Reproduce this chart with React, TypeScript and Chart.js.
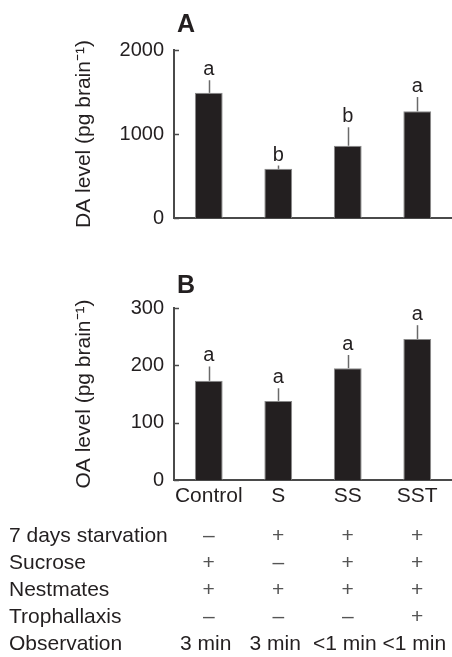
import React, { useEffect, useRef } from "react";
import { Chart, registerables } from "chart.js";

Chart.register(...registerables);

// ---------- data ----------
const groups = ["Control", "S", "SS", "SST"];

const daMean = [1490, 585, 860, 1270];
const daErr = [150, 40, 220, 170];
const daLetters = ["a", "b", "b", "a"];
const daTicks = [0, 1000, 2000];

const oaMean = [173, 138, 195, 246];
const oaErr = [25, 22, 23, 24];
const oaLetters = ["a", "a", "a", "a"];
const oaTicks = [0, 100, 200, 300];

const conditionNames = ["7 days starvation", "Sucrose", "Nestmates", "Trophallaxis", "Observation"];
const starvationRow = ["–", "+", "+", "+"];
const sucroseRow = ["+", "–", "+", "+"];
const nestmatesRow = ["+", "+", "+", "+"];
const trophallaxisRow = ["–", "–", "–", "+"];
const observationRow = ["3 min", "3 min", "<1 min", "<1 min"];

// ---------- style ----------
const FAMILY = '"Liberation Sans", Arial, Helvetica, sans-serif';
const TEXT = "#231f20";
const BAR = "#231f20";
const BAR_EDGE = "#8a8a8a";
const AXIS = "#4a4a4a";
const ERR = "#6a6a6a";

type Panel = {
  letter: string;
  means: number[];
  errs: number[];
  letters: string[];
  ticks: number[];
  max: number;
  yTitle: string;
  padTop: number;
  padBottom: number;
  xHeight: number;
  showX: boolean;
  letterLift: number;
  table: boolean;
};

function makeExtras(p: Panel) {
  return {
    id: "panelExtras" + p.letter,
    afterDatasetsDraw(chart: any) {
      const { ctx, chartArea } = chart;
      const xs = chart.scales.x;
      const ys = chart.scales.y;
      const meta = chart.getDatasetMeta(0);
      ctx.save();

      // inward tick marks
      ctx.strokeStyle = AXIS;
      ctx.lineWidth = 1.5;
      p.ticks.forEach((v) => {
        const py = Math.round(ys.getPixelForValue(v)) + 0.5;
        ctx.beginPath();
        ctx.moveTo(chartArea.left, py);
        ctx.lineTo(chartArea.left + 5, py);
        ctx.stroke();
      });

      // error bars + significance letters
      p.means.forEach((m, i) => {
        const bar = meta.data[i];
        const px = Math.round(bar.x) + 0.5;
        const yBase = ys.getPixelForValue(m);
        const yTop = ys.getPixelForValue(m + p.errs[i]);
        ctx.strokeStyle = ERR;
        ctx.lineWidth = 1.5;
        ctx.beginPath();
        ctx.moveTo(px, yBase);
        ctx.lineTo(px, yTop);
        ctx.stroke();
        ctx.fillStyle = TEXT;
        ctx.font = `20px ${FAMILY}`;
        ctx.textAlign = "center";
        ctx.textBaseline = "alphabetic";
        ctx.fillText(p.letters[i], bar.x, yTop - 5);
      });

      // panel letter
      ctx.fillStyle = TEXT;
      ctx.font = `bold 25px ${FAMILY}`;
      ctx.textAlign = "left";
      ctx.textBaseline = "alphabetic";
      ctx.fillText(p.letter, chartArea.left + 3, chartArea.top - p.letterLift);

      // condition table
      if (p.table) {
        const rows = [starvationRow, sucroseRow, nestmatesRow, trophallaxisRow, observationRow];
        ctx.font = `21px ${FAMILY}`;
        ctx.textBaseline = "middle";
        rows.forEach((row, r) => {
          const cy = chartArea.bottom + 56 + r * 27;
          ctx.fillStyle = TEXT;
          ctx.textAlign = "left";
          ctx.fillText(conditionNames[r], 9, cy);
          row.forEach((val, c) => {
            const cx = xs.getPixelForValue(c);
            const isObs = r === rows.length - 1;
            ctx.fillStyle = isObs ? TEXT : "#555";
            ctx.textAlign = "center";
            ctx.fillText(val, isObs ? cx - 3 : cx, cy);
          });
        });
      }
      ctx.restore();
    },
  };
}

function makeConfig(p: Panel): any {
  const tickFont = { family: FAMILY, size: 20 };
  return {
    type: "bar",
    data: {
      labels: groups,
      datasets: [
        {
          data: p.means,
          backgroundColor: BAR,
          borderColor: BAR_EDGE,
          borderWidth: 1,
          barPercentage: 0.4,
          categoryPercentage: 1,
        },
      ],
    },
    options: {
      responsive: false,
      animation: false,
      devicePixelRatio: 1,
      events: [],
      layout: { padding: { top: p.padTop, bottom: p.padBottom, left: 0, right: 0 } },
      plugins: {
        legend: { display: false },
        tooltip: { enabled: false },
        title: { display: false },
      },
      scales: {
        x: {
          grid: { display: false, drawTicks: false },
          border: { display: true, color: AXIS, width: 2 },
          ticks: {
            display: p.showX,
            font: { family: FAMILY, size: 21 },
            color: TEXT,
            padding: 4,
            maxRotation: 0,
            autoSkip: false,
          },
          afterFit: (s: any) => {
            s.height = p.xHeight;
          },
        },
        y: {
          min: 0,
          max: p.max,
          grid: { display: false, drawTicks: false },
          border: { display: true, color: AXIS, width: 2 },
          ticks: {
            font: tickFont,
            color: TEXT,
            padding: 10,
            callback: (v: any) => String(v),
          },
          afterBuildTicks: (s: any) => {
            s.ticks = p.ticks.map((v) => ({ value: v }));
          },
          afterFit: (s: any) => {
            s.width = 174;
          },
          title: {
            display: true,
            text: p.yTitle,
            font: { family: FAMILY, size: 21 },
            color: TEXT,
            padding: { top: 72, bottom: 0 },
          },
        },
      },
    },
    plugins: [makeExtras(p)],
  };
}

const panelA: Panel = {
  letter: "A",
  means: daMean,
  errs: daErr,
  letters: daLetters,
  ticks: daTicks,
  max: 2000,
  yTitle: "DA level (pg brain⁻¹)",
  padTop: 50,
  padBottom: 18,
  xHeight: 0,
  showX: false,
  letterLift: 18,
  table: false,
};

const panelB: Panel = {
  letter: "B",
  means: oaMean,
  errs: oaErr,
  letters: oaLetters,
  ticks: oaTicks,
  max: 300,
  yTitle: "OA level (pg brain⁻¹)",
  padTop: 68,
  padBottom: 147,
  xHeight: 30,
  showX: true,
  letterLift: 15,
  table: true,
};

export default function App() {
  const refA = useRef<HTMLCanvasElement>(null);
  const refB = useRef<HTMLCanvasElement>(null);

  useEffect(() => {
    const a = new Chart(refA.current as HTMLCanvasElement, makeConfig(panelA));
    const b = new Chart(refB.current as HTMLCanvasElement, makeConfig(panelB));
    return () => {
      a.destroy();
      b.destroy();
    };
  }, []);

  return (
    <div
      style={{
        position: "absolute",
        left: 0,
        top: 0,
        width: 452,
        height: 657,
        background: "#fff",
        overflow: "hidden",
      }}
    >
      <canvas
        ref={refA}
        width={452}
        height={240}
        style={{ position: "absolute", left: 0, top: 0, width: 452, height: 240 }}
      />
      <canvas
        ref={refB}
        width={452}
        height={417}
        style={{ position: "absolute", left: 0, top: 240, width: 452, height: 417 }}
      />
    </div>
  );
}
